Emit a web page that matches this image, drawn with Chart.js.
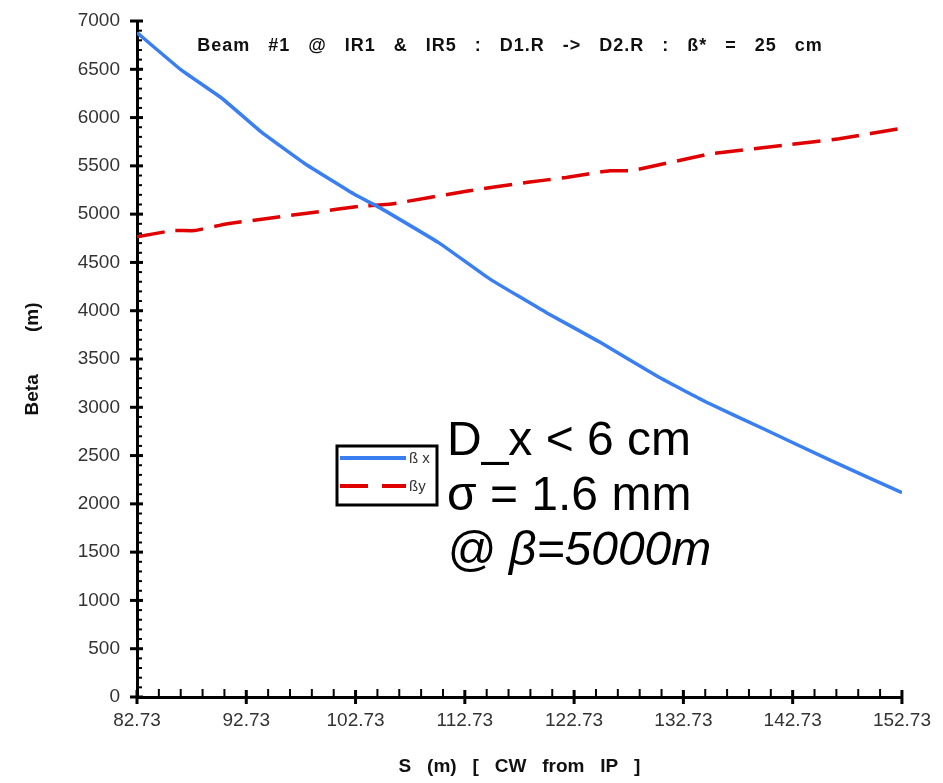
<!DOCTYPE html>
<html>
<head>
<meta charset="utf-8">
<script src="https://cdn.jsdelivr.net/npm/chart.js@4/dist/chart.umd.min.js"></script>
<style>
  html, body { margin: 0; padding: 0; background: #fff; }
</style>
</head>
<body>
<canvas id="betaChart" width="943" height="783"></canvas>
<script>
// beta functions (S in m, beta in m)
const sBetaX = [82.73, 86.7, 90.5, 94.0, 98.0, 102.7, 104.9, 110.4, 115.0, 120.2, 125.0, 130.5, 134.8, 140.0, 146.0, 152.73];
const betaX  = [6880, 6500, 6200, 5860, 5530, 5200, 5070, 4700, 4330, 3980, 3680, 3310, 3055, 2780, 2460, 2115];
const sBetaY = [82.73, 86.0, 88.0, 91.0, 95.0, 99.0, 103.0, 106.0, 113.0, 118.5, 122.0, 126.0, 128.0, 135.0, 142.0, 147.0, 152.73];
const betaY  = [4765, 4830, 4830, 4900, 4960, 5020, 5080, 5105, 5240, 5330, 5380, 5450, 5450, 5620, 5715, 5780, 5890];

const xTicks = [82.73, 92.73, 102.73, 112.73, 122.73, 132.73, 142.73, 152.73];
const xMinorStep = 2;
const yMinorStep = 100;

const titleText = 'Beam   #1   @   IR1   &   IR5   :   D1.R   ->   D2.R   :   ß*   =   25   cm';
const notes = ['D_x < 6 cm', 'σ = 1.6 mm', '@ β=5000m'];

const blue = '#3a7ff2';
const red = '#e00000';
const fontFam = '"Liberation Sans", Arial, sans-serif';

function toPoints(xs, ys) {
    return xs.map((x, i) => ({ x: x, y: ys[i] }));
}

// hand-made tick marks: major ticks cross the axis, minor ones sit inside
const axisTicks = {
    id: 'axisTicks',
    afterDraw(chart) {
        const ctx = chart.ctx;
        const xs = chart.scales.x, ys = chart.scales.y;
        const area = chart.chartArea;
        ctx.save();
        ctx.strokeStyle = '#000';
        // y axis
        for (let v = ys.min; v <= ys.max + 0.01; v += yMinorStep) {
            const py = ys.getPixelForValue(v);
            ctx.beginPath();
            if (v % 500 === 0) {
                ctx.lineWidth = 3;
                ctx.moveTo(area.left - 7, py);
                ctx.lineTo(area.left + 6, py);
            } else {
                ctx.lineWidth = 2;
                ctx.moveTo(area.left, py);
                ctx.lineTo(area.left + 5, py);
            }
            ctx.stroke();
        }
        // x axis
        for (let v = xs.min; v <= xs.max + 0.01; v += xMinorStep) {
            const px = xs.getPixelForValue(v);
            const major = Math.abs(((v - xs.min) / 10) - Math.round((v - xs.min) / 10)) < 0.01;
            ctx.beginPath();
            if (major) {
                ctx.lineWidth = 3;
                ctx.moveTo(px, area.bottom + 7);
                ctx.lineTo(px, area.bottom - 7);
            } else {
                ctx.lineWidth = 2;
                ctx.moveTo(px, area.bottom);
                ctx.lineTo(px, area.bottom - 8);
            }
            ctx.stroke();
        }
        ctx.restore();
    }
};

// title, legend box and the note text
const decorations = {
    id: 'decorations',
    afterDraw(chart) {
        const ctx = chart.ctx;
        const area = chart.chartArea;
        ctx.save();

        ctx.fillStyle = '#111';
        ctx.font = 'bold 18px ' + fontFam;
        ctx.letterSpacing = '1px';
        ctx.textAlign = 'center';
        ctx.textBaseline = 'middle';
        ctx.fillText(titleText, 510, 46);
        ctx.letterSpacing = '0px';

        // legend
        const lx = area.left + 200, ly = 446;
        ctx.lineWidth = 3;
        ctx.strokeStyle = '#000';
        ctx.strokeRect(lx, ly, 100, 59);
        const ds = chart.data.datasets;
        ctx.lineWidth = 4;
        ctx.strokeStyle = ds[0].borderColor;
        ctx.beginPath();
        ctx.moveTo(lx + 3, ly + 12);
        ctx.lineTo(lx + 69, ly + 12);
        ctx.stroke();
        ctx.strokeStyle = ds[1].borderColor;
        ctx.setLineDash([28, 14]);
        ctx.beginPath();
        ctx.moveTo(lx + 3, ly + 40);
        ctx.lineTo(lx + 69, ly + 40);
        ctx.stroke();
        ctx.setLineDash([]);
        ctx.fillStyle = '#333';
        ctx.font = '15px ' + fontFam;
        ctx.textAlign = 'left';
        ctx.fillText('ß x', lx + 72, ly + 13);
        ctx.fillText('ßy', lx + 72, ly + 41);

        // notes
        ctx.fillStyle = '#000';
        ctx.textBaseline = 'alphabetic';
        ctx.font = '48px ' + fontFam;
        ctx.fillText(notes[0], 447, 455);
        ctx.fillText(notes[1], 447, 510);
        ctx.font = 'italic 48px ' + fontFam;
        ctx.fillText(notes[2], 447, 565);
        ctx.restore();
    }
};

const ctx = document.getElementById('betaChart').getContext('2d');
const betaChart = new Chart(ctx, {
    type: 'line',
    data: {
        datasets: [{
            label: 'ßx',
            data: toPoints(sBetaX, betaX),
            borderColor: blue,
            borderWidth: 3.5,
            pointRadius: 0,
            tension: 0.1,
            fill: false
        }, {
            label: 'ßy',
            data: toPoints(sBetaY, betaY),
            borderColor: red,
            borderWidth: 3.5,
            borderDash: [28, 11],
            pointRadius: 0,
            tension: 0.1,
            fill: false
        }]
    },
    options: {
        responsive: false,
        animation: false,
        layout: { padding: { top: 21, right: 40, left: 0, bottom: 0 } },
        plugins: {
            legend: { display: false },
            tooltip: { enabled: false },
            title: { display: false }
        },
        scales: {
            x: {
                type: 'linear',
                min: 82.73,
                max: 152.73,
                afterBuildTicks: (scale) => { scale.ticks = xTicks.map(v => ({ value: v })); },
                afterFit: (scale) => { scale.height = 86; },
                ticks: {
                    color: '#333',
                    padding: 12,
                    maxRotation: 0,
                    font: { size: 19, family: fontFam },
                    callback: (v) => Number(v).toFixed(2)
                },
                grid: { display: false, drawTicks: false },
                border: { display: true, color: '#000', width: 3 },
                title: {
                    display: true,
                    text: 'S   (m)   [   CW   from   IP   ]',
                    color: '#111',
                    padding: { top: 0, bottom: 5 },
                    font: { size: 19, weight: 'bold', family: fontFam }
                }
            },
            y: {
                min: 0,
                max: 7000,
                afterFit: (scale) => {
                    scale.width = 137;
                    scale.paddingTop = 0;
                    scale.paddingBottom = 0;
                },
                ticks: {
                    stepSize: 500,
                    color: '#333',
                    padding: 17,
                    font: { size: 19, family: fontFam },
                    callback: (v) => String(v)
                },
                grid: { display: false, drawTicks: false },
                border: { display: true, color: '#000', width: 3 },
                title: {
                    display: true,
                    text: 'Beta        (m)',
                    color: '#111',
                    padding: { top: 21, bottom: 0 },
                    font: { size: 19, weight: 'bold', family: fontFam }
                }
            }
        }
    },
    plugins: [axisTicks, decorations]
});
</script>
</body>
</html>
